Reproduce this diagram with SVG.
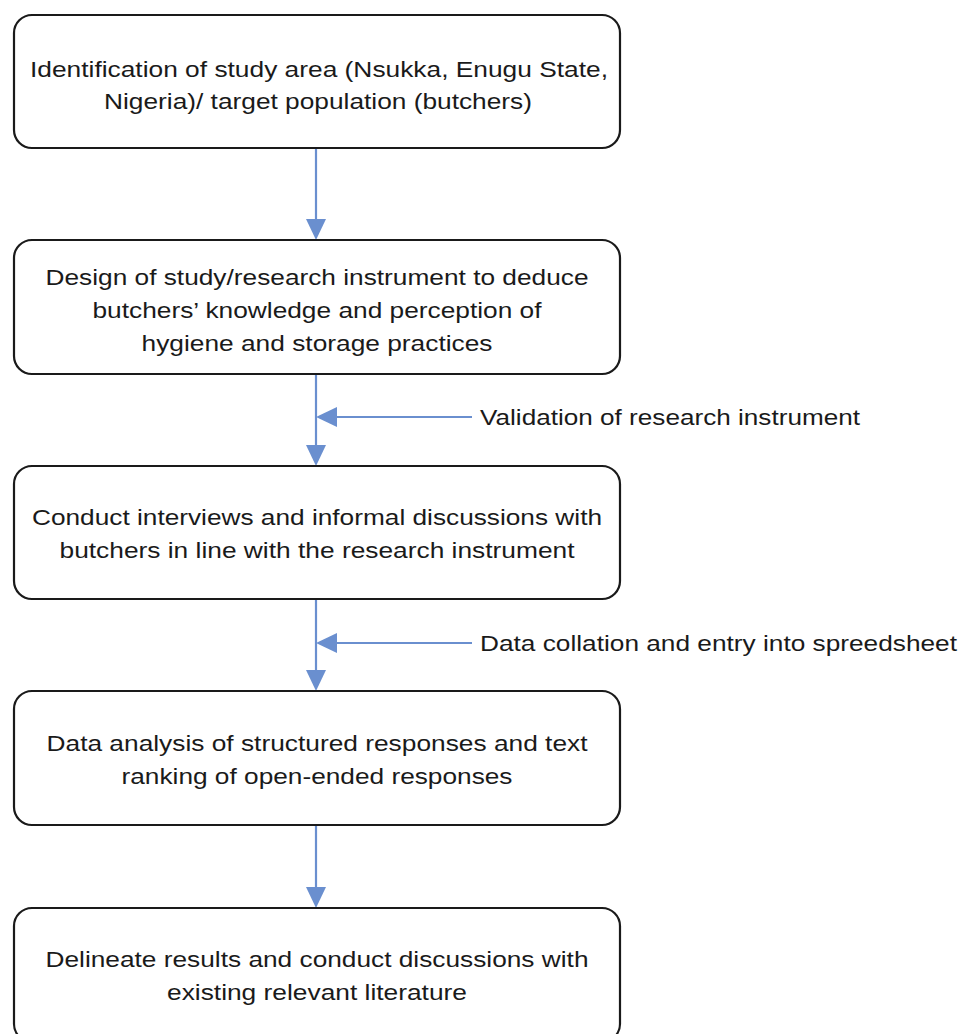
<svg xmlns="http://www.w3.org/2000/svg" width="961" height="1034" viewBox="0 0 961 1034">
<style>
.box{fill:#fff;stroke:#1a1a1a;stroke-width:2.2}
.t{font-family:"Liberation Sans",Arial,sans-serif;font-size:22.5px;fill:#1a1a1a;text-anchor:middle}
.l{font-family:"Liberation Sans",Arial,sans-serif;font-size:22.5px;fill:#1a1a1a}
.c{stroke:#6a8fcf;stroke-width:2.2;fill:none}
.h{fill:#6a8fcf}
</style>
<rect width="961" height="1034" fill="#fff"/>
<g id="connectors">
<path class="c" d="M316,148 V222"/>
<path class="h" d="M306,219 L326,219 L316,240 Z"/>
<path class="c" d="M316,374 V448"/>
<path class="h" d="M306,445 L326,445 L316,466 Z"/>
<path class="c" d="M472,417 H334"/>
<path class="h" d="M337,407 L337,427 L316,417 Z"/>
<path class="c" d="M316,599 V673"/>
<path class="h" d="M306,670 L326,670 L316,691 Z"/>
<path class="c" d="M472,643 H334"/>
<path class="h" d="M337,633 L337,653 L316,643 Z"/>
<path class="c" d="M316,825 V890"/>
<path class="h" d="M306,887 L326,887 L316,908 Z"/>
</g>
<g id="n1">
<rect class="box" x="14" y="15" width="606" height="133" rx="18"/>
<text class="t" x="319" y="77" textLength="578" lengthAdjust="spacingAndGlyphs">Identification of study area (Nsukka, Enugu State,</text>
<text class="t" x="318" y="109" textLength="428" lengthAdjust="spacingAndGlyphs">Nigeria)/ target population (butchers)</text>
</g>
<g id="n2">
<rect class="box" x="14" y="240" width="606" height="134" rx="18"/>
<text class="t" x="317" y="285" textLength="543" lengthAdjust="spacingAndGlyphs">Design of study/research instrument to deduce</text>
<text class="t" x="317" y="318" textLength="449" lengthAdjust="spacingAndGlyphs">butchers’ knowledge and perception of</text>
<text class="t" x="317" y="351" textLength="351" lengthAdjust="spacingAndGlyphs">hygiene and storage practices</text>
</g>
<g id="lab1">
<text class="l" x="480" y="425" textLength="380" lengthAdjust="spacingAndGlyphs">Validation of research instrument</text>
</g>
<g id="n3">
<rect class="box" x="14" y="466" width="606" height="133" rx="18"/>
<text class="t" x="317" y="525" textLength="570" lengthAdjust="spacingAndGlyphs">Conduct interviews and informal discussions with</text>
<text class="t" x="317" y="558" textLength="515" lengthAdjust="spacingAndGlyphs">butchers in line with the research instrument</text>
</g>
<g id="lab2">
<text class="l" x="480" y="651" textLength="477" lengthAdjust="spacingAndGlyphs">Data collation and entry into spreedsheet</text>
</g>
<g id="n4">
<rect class="box" x="14" y="691" width="606" height="134" rx="18"/>
<text class="t" x="317" y="751" textLength="541" lengthAdjust="spacingAndGlyphs">Data analysis of structured responses and text</text>
<text class="t" x="317" y="784" textLength="391" lengthAdjust="spacingAndGlyphs">ranking of open-ended responses</text>
</g>
<g id="n5">
<rect class="box" x="14" y="908" width="606" height="134" rx="18"/>
<text class="t" x="317" y="967" textLength="543" lengthAdjust="spacingAndGlyphs">Delineate results and conduct discussions with</text>
<text class="t" x="317" y="1000" textLength="300" lengthAdjust="spacingAndGlyphs">existing relevant literature</text>
</g>
</svg>
